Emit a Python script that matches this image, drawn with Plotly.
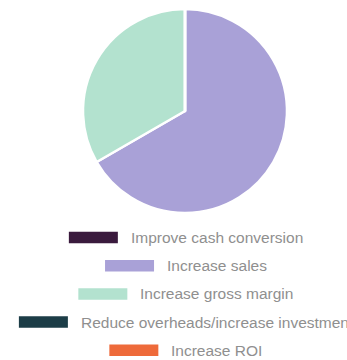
import plotly.graph_objects as go

# Survey answers: which objective matters most
labels = [
    "Improve cash conversion",
    "Increase sales",
    "Increase gross margin",
    "Reduce overheads/increase investment",
    "Increase ROI",
]
responses = [0, 2, 1, 0, 0]
colors = ["#3a1a3d", "#a9a1d7", "#b3e2cf", "#1c3d47", "#ee6a3a"]

W, H = 347, 360
FONT_SIZE = 15.5
TEXT_COLOR = "#8f8f8f"

# Approximate advance widths (Arial / Liberation Sans metrics, 1/1000 em)
CHAR_W = {
    "a": 556, "b": 556, "c": 500, "d": 556, "e": 556, "f": 278, "g": 556,
    "h": 556, "i": 222, "j": 222, "k": 500, "l": 222, "m": 833, "n": 556,
    "o": 556, "p": 556, "q": 556, "r": 333, "s": 500, "t": 278, "u": 556,
    "v": 500, "w": 722, "x": 500, "y": 500, "z": 500, " ": 278, "/": 278,
    "I": 278, "R": 722, "O": 778,
}


def text_width(s, size):
    return sum(CHAR_W.get(ch, 556) for ch in s) / 1000.0 * size


# Pie placement (pixels)
cx, cy, r = 185, 111, 102

fig = go.Figure(
    go.Pie(
        labels=labels,
        values=responses,
        marker=dict(colors=colors, line=dict(color="white", width=2.5)),
        sort=False,
        direction="clockwise",
        rotation=0,
        textinfo="none",
        hoverinfo="label+percent",
        showlegend=False,
        domain=dict(
            x=[(cx - r) / W, (cx + r) / W],
            y=[1 - (cy + r) / H, 1 - (cy - r) / H],
        ),
    )
)

# Centred legend rows: swatch + label, each row centred under the pie
sw_w, sw_h, gap = 49, 11.5, 11
row0, row_step = 237.5, 28.2
shapes, annotations = [], []
for i, (lab, col) in enumerate(zip(labels, colors)):
    tw = text_width(lab, FONT_SIZE)
    left = cx - (sw_w + gap + tw) / 2
    yc = row0 + i * row_step
    shapes.append(dict(
        type="rect", xref="paper", yref="paper",
        x0=left / W, x1=(left + sw_w) / W,
        y0=1 - (yc + sw_h / 2) / H, y1=1 - (yc - sw_h / 2) / H,
        fillcolor=col, line=dict(width=0),
    ))
    annotations.append(dict(
        text=lab, xref="paper", yref="paper",
        x=(left + sw_w + gap) / W, y=1 - yc / H,
        xanchor="left", yanchor="middle", showarrow=False,
        font=dict(family="Liberation Sans, Arial, sans-serif",
                  size=FONT_SIZE, color=TEXT_COLOR),
    ))

fig.update_layout(
    width=W, height=H,
    margin=dict(l=0, r=0, t=0, b=0),
    paper_bgcolor="white",
    plot_bgcolor="white",
    shapes=shapes,
    annotations=annotations,
)

fig.write_html("out.html")
